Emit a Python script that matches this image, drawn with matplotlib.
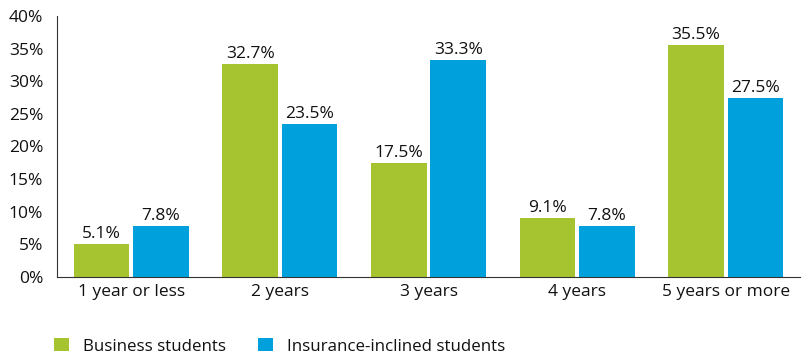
import numpy as np
import matplotlib.pyplot as plt
from matplotlib.ticker import PercentFormatter

plt.rcParams['font.family'] = ['Open Sans', 'DejaVu Sans']

categories = ["1 year or less", "2 years", "3 years", "4 years", "5 years or more"]
business = [5.1, 32.7, 17.5, 9.1, 35.5]
insurance = [7.8, 23.5, 33.3, 7.8, 27.5]

green = "#a6c42f"
blue = "#00a0dc"

fig = plt.figure(figsize=(8.03, 3.59), dpi=100)
ax = fig.add_axes([57 / 803, 1 - 277 / 359, 743 / 803, 261 / 359])

x = np.arange(len(categories))
w = 0.375
b1 = ax.bar(x - 0.2, business, w, color=green, label="Business students")
b2 = ax.bar(x + 0.2, insurance, w, color=blue, label="Insurance-inclined students")

for bars in (b1, b2):
    for r in bars:
        ax.text(r.get_x() + r.get_width() / 2, r.get_height() + 0.3,
                f"{r.get_height():.1f}%", ha="center", va="bottom", fontsize=12.5,
                color="#111111")

ax.set_xlim(-0.5, 4.5)
ax.set_ylim(0, 40)
ax.set_yticks(range(0, 41, 5))
ax.yaxis.set_major_formatter(PercentFormatter(decimals=0))
ax.set_xticks(x)
ax.set_xticklabels(categories)
ax.tick_params(axis="both", length=0, labelsize=12.5, labelcolor="#111111")
ax.tick_params(axis="y", pad=10)
ax.tick_params(axis="x", pad=5)
for s in ("top", "right"):
    ax.spines[s].set_visible(False)
ax.spines["left"].set_color("#333333")
ax.spines["bottom"].set_color("#333333")

fig.legend(handles=[b1, b2], loc="lower left", bbox_to_anchor=(39 / 803, -0.03),
           ncol=2, frameon=False, fontsize=12.2, handlelength=0.85, handleheight=0.85,
           columnspacing=1.9, handletextpad=0.85, labelcolor="#111111")

fig.savefig("out.png", dpi=100)
